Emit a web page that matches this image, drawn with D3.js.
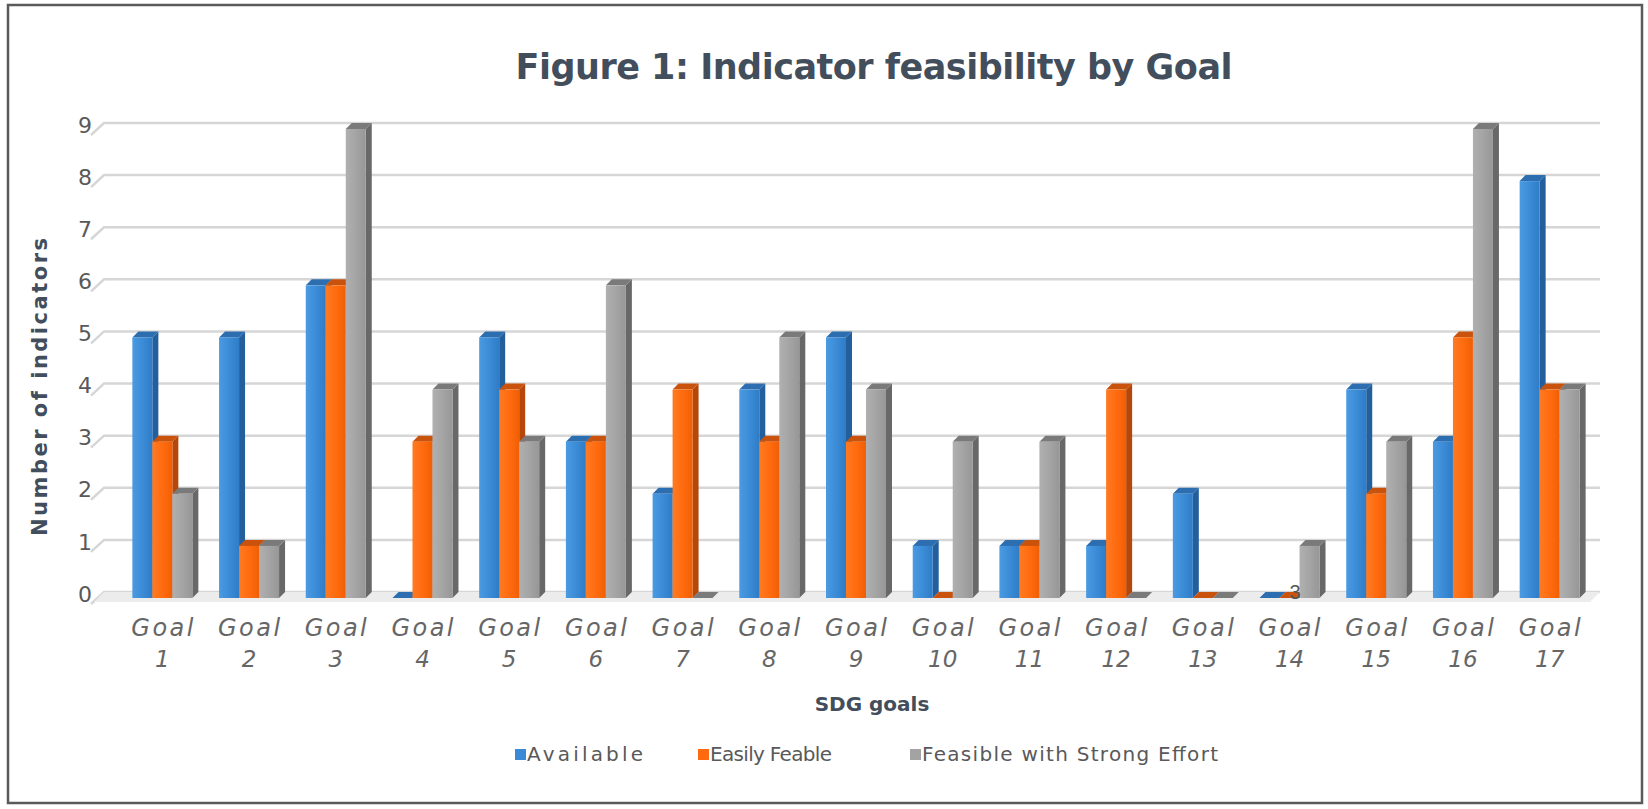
<!DOCTYPE html>
<html>
<head>
<meta charset="utf-8">
<script src="https://cdn.jsdelivr.net/npm/d3@7"></script>
<style>
  html, body { margin: 0; padding: 0; background: #fff; }
  svg { display: block; }
</style>
</head>
<body>
<div id="chart"></div>
<script>
const goals = ['1', '2', '3', '4', '5', '6', '7', '8', '9', '10', '11', '12', '13', '14', '15', '16', '17'];
const seriesNames = ['Available', 'Easily Feable', 'Feasible with Strong Effort'];
const available = [5, 5, 6, 0, 5, 3, 2, 4, 5, 1, 1, 1, 2, 0, 4, 3, 8];
const easilyFeable = [3, 1, 6, 3, 4, 3, 4, 3, 3, 0, 1, 4, 0, 0, 2, 5, 4];
const strongEffort = [2, 1, 9, 4, 3, 6, 0, 5, 4, 3, 3, 0, 0, 1, 3, 9, 4];
const yTicks = [0, 1, 2, 3, 4, 5, 6, 7, 8, 9];

const W = 1648, H = 809;
const colors = [
  { front: ['#4a9be2', '#3a8ad6', '#2f7cc6'], side: '#225f9c', top: '#2c6eb0' },
  { front: ['#ff7a22', '#ff6a0e', '#f05f05'], side: '#b5470a', top: '#c9520c' },
  { front: ['#b0b0b0', '#a3a3a3', '#979797'], side: '#686868', top: '#7a7a7a' }
];
const fontMain = '"DejaVu Sans", sans-serif';
const slate = '#434e5c';

const svg = d3.select('#chart').append('svg').attr('width', W).attr('height', H);

const defs = svg.append('defs');
colors.forEach((c, i) => {
  const g = defs.append('linearGradient').attr('id', `grad${i}`)
    .attr('x1', '0%').attr('x2', '100%').attr('y1', '0%').attr('y2', '0%');
  g.append('stop').attr('offset', '0%').attr('stop-color', c.front[0]);
  g.append('stop').attr('offset', '55%').attr('stop-color', c.front[1]);
  g.append('stop').attr('offset', '100%').attr('stop-color', c.front[2]);
});

// outer frame
svg.append('rect').attr('x', 8).attr('y', 5).attr('width', 1634).attr('height', 798)
  .attr('fill', '#fff').attr('stroke', '#5a5a5a').attr('stroke-width', 2.5);

const x = d3.scaleBand().domain(goals).range([119, 1593]);
const y = d3.scaleLinear().domain([0, 9]).range([592, 123]);
const barW = 20, depthX = 6, depthY = 6;
const sub = d3.scaleBand().domain(d3.range(3)).range([-30, 30]);

// gridlines on the back wall
const gridLeft = 104, gridRight = 1600;
const grid = svg.append('g');
grid.selectAll('path').data(yTicks).join('path')
  .attr('d', d => `M${gridLeft - 13},${y(d) + 12}L${gridLeft},${y(d)}L${gridRight},${y(d)}`)
  .attr('fill', 'none').attr('stroke', '#d6d6d6').attr('stroke-width', 2.5);

// floor
svg.append('path')
  .attr('d', `M${gridLeft},${y(0)}L${gridRight},${y(0)}L${gridRight - 10},${y(0) + 10}L${gridLeft - 10},${y(0) + 10}Z`)
  .attr('fill', '#ececec');

// y tick labels
svg.append('g').selectAll('text').data(yTicks).join('text')
  .attr('x', 92).attr('y', d => y(d) + 2).attr('dy', '0.35em').attr('text-anchor', 'end')
  .attr('fill', '#595959').attr('font-size', '22px').attr('font-family', fontMain)
  .text(d => d);

// bars
const rows = goals.map((g, i) => ({ goal: g, values: [available[i], easilyFeable[i], strongEffort[i]] }));
const bars = svg.append('g');
rows.forEach(r => {
  r.values.forEach((v, s) => {
    const x0 = x(r.goal) + x.bandwidth() / 2 + sub(s);
    const yTop = y(v) + depthY, yBase = y(0) + depthY;
    const g = bars.append('g');
    // side face
    g.append('path')
      .attr('d', `M${x0 + barW},${yTop}L${x0 + barW + depthX},${yTop - depthY}L${x0 + barW + depthX},${yBase - depthY}L${x0 + barW},${yBase}Z`)
      .attr('fill', colors[s].side);
    // top face
    g.append('path')
      .attr('d', `M${x0},${yTop}L${x0 + depthX},${yTop - depthY}L${x0 + barW + depthX},${yTop - depthY}L${x0 + barW},${yTop}Z`)
      .attr('fill', colors[s].top);
    // front face
    g.append('rect').attr('x', x0).attr('y', yTop).attr('width', barW).attr('height', Math.max(0, yBase - yTop))
      .attr('fill', `url(#grad${s})`);
  });
});

// x tick labels
const xl = svg.append('g');
goals.forEach(gl => {
  const cx = x(gl) + x.bandwidth() / 2;
  xl.append('text').attr('x', cx).attr('y', 636).attr('text-anchor', 'middle')
    .attr('fill', '#666').attr('font-size', '24px').attr('font-style', 'italic').attr('font-family', fontMain)
    .attr('textLength', 62).attr('lengthAdjust', 'spacing')
    .text('Goal');
  xl.append('text').attr('x', cx).attr('y', 667).attr('text-anchor', 'middle')
    .attr('fill', '#666').attr('font-size', '23px').attr('font-style', 'italic').attr('font-family', fontMain)
    .text(gl);
});

// stray page number
svg.append('text').attr('x', 1295).attr('y', 599).attr('text-anchor', 'middle')
  .attr('fill', '#555').attr('font-size', '20px').attr('font-family', '"Liberation Sans", sans-serif').text('3');

// title
svg.append('text').attr('x', 874).attr('y', 79).attr('text-anchor', 'middle')
  .attr('fill', slate).attr('font-size', '35px').attr('font-weight', 700).attr('font-family', fontMain)
  .attr('textLength', 717).attr('lengthAdjust', 'spacing')
  .text('Figure 1: Indicator feasibility by Goal');

// axis titles
svg.append('text').attr('transform', 'translate(47,387) rotate(-90)').attr('text-anchor', 'middle')
  .attr('fill', slate).attr('font-size', '21px').attr('font-weight', 700).attr('font-family', fontMain)
  .attr('textLength', 298).attr('lengthAdjust', 'spacing')
  .text('Number of indicators');
svg.append('text').attr('x', 872).attr('y', 711).attr('text-anchor', 'middle')
  .attr('fill', slate).attr('font-size', '20px').attr('font-weight', 700).attr('font-family', fontMain)
  .text('SDG goals');

// legend
const legendX = [515, 698, 910];
const legendW = [116, 122, 296];
const legend = svg.append('g');
seriesNames.forEach((name, i) => {
  legend.append('rect').attr('x', legendX[i]).attr('y', 749).attr('width', 11).attr('height', 11)
    .attr('fill', colors[i].front[1]);
  legend.append('text').attr('x', legendX[i] + 12).attr('y', 761)
    .attr('fill', '#595959').attr('font-size', '20px').attr('font-family', fontMain)
    .attr('textLength', legendW[i]).attr('lengthAdjust', 'spacing')
    .text(name);
});
</script>
</body>
</html>
